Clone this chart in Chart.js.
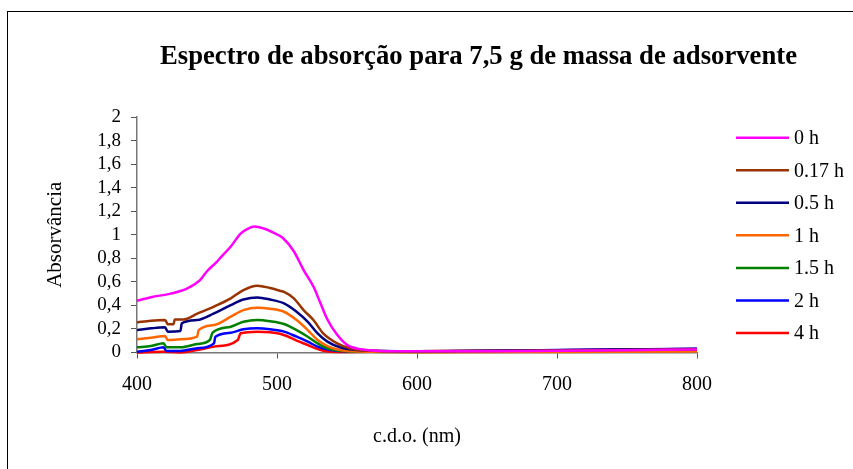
<!DOCTYPE html>
<html>
<head>
<meta charset="utf-8">
<script src="https://cdn.jsdelivr.net/npm/chart.js@4.4.1/dist/chart.umd.min.js"></script>
<style>
  html, body { margin: 0; padding: 0; background: #ffffff; }
  #wrap { position: relative; width: 853px; height: 469px; }
  canvas { display: block; }
</style>
</head>
<body>
<div id="wrap"><canvas id="c" width="853" height="469"></canvas></div>
<script>
// ---------- DATA ----------
const chartTitle = 'Espectro de absorção para 7,5 g de massa de adsorvente';
const xTitle = 'c.d.o. (nm)';
const yTitle = 'Absorvância';
const seriesNames = ['0 h', '0.17 h', '0.5 h', '1 h', '1.5 h', '2 h', '4 h'];
const seriesColors = ['#FF00FF', '#993300', '#000080', '#FF6600', '#008000', '#0000FF', '#FF0000'];
const xTickLabels = ['400', '500', '600', '700', '800'];
const yTickLabels = ['0', '0,2', '0,4', '0,6', '0,8', '1', '1,2', '1,4', '1,6', '1,8', '2'];

const nm0h   = [400, 410, 424, 436, 445, 450, 457, 460, 467, 474, 479, 484, 490, 497, 504, 512, 519, 526, 531, 536, 543, 550, 560, 575, 600, 650, 700, 750, 800];
const abs0h  = [0.44, 0.47, 0.50, 0.545, 0.615, 0.69, 0.77, 0.81, 0.90, 1.01, 1.05, 1.07, 1.055, 1.02, 0.975, 0.86, 0.70, 0.56, 0.42, 0.28, 0.15, 0.065, 0.027, 0.013, 0.01, 0.01, 0.015, 0.02, 0.025];

const nm017  = [400, 410, 420, 422, 426, 427, 433, 443, 455, 467, 476, 486, 495, 502, 505, 512, 519, 526, 533, 543, 552, 567, 600, 700, 800];
const abs017 = [0.255, 0.27, 0.276, 0.24, 0.24, 0.28, 0.28, 0.33, 0.39, 0.46, 0.53, 0.567, 0.548, 0.525, 0.514, 0.46, 0.36, 0.276, 0.163, 0.078, 0.036, 0.015, 0.01, 0.017, 0.027];

const nm05   = [400, 410, 420, 422, 431, 432, 443, 455, 467, 476, 486, 495, 505, 514, 522, 529, 536, 545, 557, 600, 700, 800];
const abs05  = [0.19, 0.205, 0.214, 0.177, 0.182, 0.248, 0.276, 0.332, 0.403, 0.45, 0.468, 0.45, 0.417, 0.346, 0.26, 0.163, 0.092, 0.044, 0.021, 0.01, 0.02, 0.03];

const nm1    = [400, 410, 420, 422, 431, 443, 444, 455, 467, 476, 486, 495, 505, 514, 522, 529, 536, 545, 560, 600, 700, 800];
const abs1   = [0.112, 0.126, 0.14, 0.106, 0.112, 0.134, 0.19, 0.233, 0.304, 0.36, 0.38, 0.372, 0.346, 0.276, 0.19, 0.106, 0.055, 0.021, 0.008, 0.003, 0.005, 0.008];

const nm15   = [400, 410, 419, 421, 431, 443, 452, 454, 467, 476, 486, 495, 505, 514, 522, 529, 536, 545, 560, 600, 700, 800];
const abs15  = [0.044, 0.055, 0.078, 0.044, 0.044, 0.072, 0.106, 0.168, 0.219, 0.261, 0.276, 0.266, 0.242, 0.19, 0.134, 0.078, 0.036, 0.015, 0.008, 0.005, 0.01, 0.015];

const nm2    = [400, 410, 419, 421, 431, 443, 455, 456, 467, 476, 486, 495, 505, 514, 522, 529, 538, 550, 600, 700, 800];
const abs2   = [0.007, 0.021, 0.044, 0.013, 0.013, 0.036, 0.078, 0.134, 0.168, 0.197, 0.205, 0.197, 0.177, 0.134, 0.092, 0.05, 0.021, 0.01, 0.01, 0.022, 0.032];

const nm4    = [400, 419, 431, 443, 455, 472, 474, 486, 495, 502, 507, 514, 522, 529, 538, 550, 600, 700, 800];
const abs4   = [0.0, 0.007, 0.0, 0.021, 0.05, 0.106, 0.163, 0.177, 0.172, 0.16, 0.14, 0.1, 0.064, 0.03, 0.007, 0.005, 0.01, 0.02, 0.03];

const seriesX = [nm0h, nm017, nm05, nm1, nm15, nm2, nm4];
const seriesY = [abs0h, abs017, abs05, abs1, abs15, abs2, abs4];

// ---------- CHART ----------
const FONT = '"Liberation Serif", "Times New Roman", serif';

const datasets = seriesNames.map((name, i) => ({
  label: name,
  data: seriesX[i].map((x, j) => ({ x: x, y: seriesY[i][j] })),
  borderColor: seriesColors[i],
  backgroundColor: seriesColors[i],
  borderWidth: 2.5,
  pointRadius: 0,
  cubicInterpolationMode: 'monotone',
  fill: false,
  clip: 6
}));

const decorPlugin = {
  id: 'decor',
  beforeDraw(chart) {
    const ctx = chart.ctx;
    ctx.save();
    ctx.fillStyle = '#ffffff';
    ctx.fillRect(0, 0, chart.width, chart.height);
    ctx.strokeStyle = '#000000';
    ctx.lineWidth = 1;
    ctx.strokeRect(7.5, 11.5, 900, 500);
    ctx.restore();
  },
  afterDraw(chart) {
    const ctx = chart.ctx;
    ctx.save();
    // title
    ctx.font = 'bold 27px ' + FONT;
    ctx.fillStyle = '#000000';
    ctx.textAlign = 'center';
    ctx.textBaseline = 'middle';
    const w = ctx.measureText(chartTitle).width;
    const sx = 637 / w;
    ctx.translate(478.5, 57);
    ctx.scale(sx, 1);
    ctx.fillText(chartTitle, 0, 0);
    ctx.restore();

    // legend
    ctx.save();
    ctx.font = '20px ' + FONT;
    ctx.textAlign = 'left';
    ctx.textBaseline = 'middle';
    seriesNames.forEach((name, i) => {
      const y = 137.7 + i * 32.55;
      ctx.strokeStyle = seriesColors[i];
      ctx.lineWidth = 2.5;
      ctx.beginPath();
      ctx.moveTo(736, y);
      ctx.lineTo(789, y);
      ctx.stroke();
      ctx.fillStyle = '#000000';
      ctx.fillText(name, 794, y + 1);
    });
    ctx.restore();
  }
};

new Chart(document.getElementById('c'), {
  type: 'line',
  data: { datasets: datasets },
  options: {
    responsive: false,
    animation: false,
    devicePixelRatio: 1,
    layout: { padding: { left: 0, right: 156, top: 117, bottom: 0 } },
    plugins: {
      legend: { display: false },
      title: { display: false },
      tooltip: { enabled: false }
    },
    scales: {
      x: {
        type: 'linear',
        min: 400, max: 800,
        afterFit(s) { s.height = 116.5; },
        afterBuildTicks(s) { s.ticks = xTickLabels.map(v => ({ value: Number(v) })); },
        ticks: {
          font: { family: FONT, size: 20 },
          color: '#000000',
          padding: 14,
          maxRotation: 0,
          autoSkip: false,
          callback: (v, i) => xTickLabels[i]
        },
        grid: { drawOnChartArea: false, drawTicks: true, tickLength: 6, color: '#555555' },
        border: { display: true, color: '#777777', width: 1.5 },
        title: {
          display: true, text: xTitle,
          font: { family: FONT, size: 20 },
          color: '#000000',
          padding: { top: 0, bottom: 20 }
        }
      },
      y: {
        type: 'linear',
        min: 0, max: 2,
        afterFit(s) { s.width = 137; },
        afterBuildTicks(s) { s.ticks = yTickLabels.map((t, i) => ({ value: i * 0.2 })); },
        ticks: {
          font: { family: FONT, size: 19 },
          color: '#000000',
          padding: 10,
          autoSkip: false,
          callback: (v, i) => yTickLabels[i]
        },
        grid: { drawOnChartArea: false, drawTicks: true, tickLength: 6, color: '#555555' },
        border: { display: true, color: '#777777', width: 1.5 },
        title: {
          display: true, text: yTitle,
          font: { family: FONT, size: 21 },
          color: '#000000',
          padding: { top: 43, bottom: 0 }
        }
      }
    }
  },
  plugins: [decorPlugin]
});
</script>
</body>
</html>
